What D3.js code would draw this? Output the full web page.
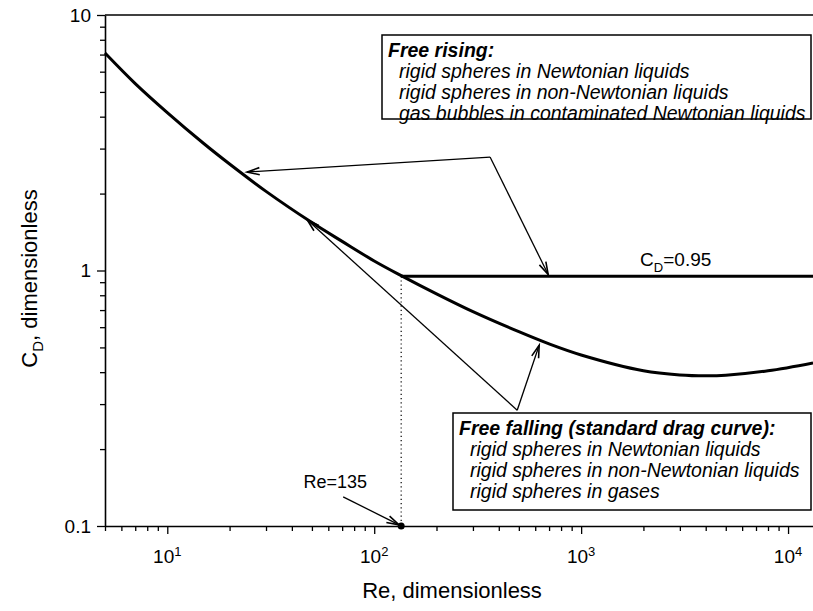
<!DOCTYPE html>
<html>
<head>
<meta charset="utf-8">
<script src="https://cdn.jsdelivr.net/npm/d3@7"></script>
<style>
  html, body { margin: 0; padding: 0; background: #fff; }
  svg { display: block; font-family: "Liberation Sans", Arial, Helvetica, sans-serif; }
</style>
</head>
<body>
<svg id="chart" width="813" height="611"></svg>
<script>
// standard drag curve
const reStd = [5, 7, 10, 15, 20, 30, 50, 70, 100, 135, 200, 300, 500, 700, 1000, 2000, 3000, 4000, 5000, 8000, 13200];
const cdStd = [7.1, 5.39, 4.15, 3.14, 2.61, 2.04, 1.54, 1.30, 1.09, 0.955, 0.81, 0.69, 0.576, 0.516, 0.467, 0.405, 0.39, 0.387, 0.389, 0.405, 0.435];

// free rising plateau
const reRise = [135, 13200];
const cdRise = [0.95, 0.95];

const reCrit = 135;

const xMajor = [10, 100, 1000, 10000];
const xMajorExp = ["1", "2", "3", "4"];
const yMajor = [0.1, 1, 10];
const yMajorLabels = ["0.1", "1", "10"];

const risingLines = ["rigid spheres in Newtonian liquids", "rigid spheres in non-Newtonian liquids", "gas bubbles in contaminated Newtonian liquids"];
const fallingLines = ["rigid spheres in Newtonian liquids", "rigid spheres in non-Newtonian liquids", "rigid spheres in gases"];

const W = 813, H = 611;
const mLeft = 105, mTop = 15, mBottom = 526;

const svg = d3.select("#chart");

const x = d3.scaleLog().domain([5, 13200]).range([mLeft, W]);
const y = d3.scaleLog().domain([0.1, 10]).range([mBottom, mTop]);

// minor ticks
const xMinor = [];
for (let p = 0; p <= 4; p++) for (let k = 2; k <= 9; k++) {
    const v = k * Math.pow(10, p);
    if (v >= 5 && v <= 13200) xMinor.push(v);
}
const yMinor = [];
for (let p = -1; p <= 0; p++) for (let k = 2; k <= 9; k++) yMinor.push(k * Math.pow(10, p));

// x axis
const gx = svg.append("g").attr("transform", `translate(0,${mBottom})`);
gx.call(d3.axisBottom(x).tickValues(xMinor).tickSize(5).tickFormat(""));
gx.select(".domain").remove();
const gx2 = svg.append("g").attr("transform", `translate(0,${mBottom})`)
    .call(d3.axisBottom(x).tickValues(xMajor).tickSize(8).tickSizeOuter(0).tickFormat(""));
gx2.select(".domain").attr("stroke", "#000").attr("stroke-width", 1.6);

// x tick labels with superscripts
xMajor.forEach((v, i) => {
    const t = svg.append("text")
        .attr("x", x(v)).attr("y", mBottom + 37)
        .attr("text-anchor", "middle")
        .style("font-size", "19px");
    t.append("tspan").text("10");
    t.append("tspan").attr("dy", -7).style("font-size", "13px").text(xMajorExp[i]);
});

// y axis
const gy = svg.append("g").attr("transform", `translate(${mLeft},0)`);
gy.call(d3.axisLeft(y).tickValues(yMinor).tickSize(5).tickFormat(""));
gy.select(".domain").remove();
const gy2 = svg.append("g").attr("transform", `translate(${mLeft},0)`)
    .call(d3.axisLeft(y).tickValues(yMajor).tickSize(8).tickSizeOuter(0).tickFormat((d, i) => yMajorLabels[i]));
gy2.selectAll("text").style("font-size", "19px").attr("x", -14).attr("fill", "#000")
    .style("font-family", "'Liberation Sans', Arial, sans-serif");
gy2.select(".domain").attr("stroke", "#000").attr("stroke-width", 1.6);
svg.selectAll(".tick line").attr("stroke", "#000").attr("stroke-width", 1.3);

// top frame line
svg.append("line")
    .attr("x1", x(5)).attr("x2", W)
    .attr("y1", y(10)).attr("y2", y(10))
    .attr("stroke", "#000").attr("stroke-width", 1.6);

// axis titles
svg.append("text")
    .attr("x", 452).attr("y", 598)
    .attr("text-anchor", "middle")
    .style("font-size", "22px")
    .text("Re, dimensionless");

const yt = svg.append("text")
    .attr("transform", `translate(37,${(mTop + mBottom) / 2 + 8}) rotate(-90)`)
    .attr("text-anchor", "middle")
    .style("font-size", "22px");
yt.append("tspan").text("C");
yt.append("tspan").attr("dy", 6).style("font-size", "15px").text("D");
yt.append("tspan").attr("dy", -6).text(", dimensionless");

// dotted line at Re=135
svg.append("line")
    .attr("x1", x(reCrit)).attr("x2", x(reCrit))
    .attr("y1", y(cdRise[0])).attr("y2", y(0.1))
    .attr("stroke", "#000").attr("stroke-width", 1.2)
    .attr("stroke-dasharray", "1.2,3");

// curves
const line = d3.line().x(d => x(d[0])).y(d => y(d[1])).curve(d3.curveCatmullRom.alpha(0.5));
svg.append("path")
    .datum(reStd.map((r, i) => [r, cdStd[i]]))
    .attr("d", line)
    .attr("fill", "none").attr("stroke", "#000").attr("stroke-width", 3);
svg.append("path")
    .datum(reRise.map((r, i) => [r, cdRise[i]]))
    .attr("d", line)
    .attr("fill", "none").attr("stroke", "#000").attr("stroke-width", 3);

svg.append("circle")
    .attr("cx", x(reCrit)).attr("cy", y(0.1)).attr("r", 3.5)
    .attr("fill", "#000");

// arrows: [fromRe, fromCd, toRe, toCd]
const arrows = [
    [363, 2.78, 24.3, 2.43],
    [363, 2.78, 693, 0.965],
    [491, 0.284, 47.4, 1.58],
    [491, 0.284, 627, 0.51],
    [70.8, 0.13, 132, 0.101]
];
arrows.forEach(a => {
    const x1 = x(a[0]), y1 = y(a[1]), x2 = x(a[2]), y2 = y(a[3]);
    svg.append("line")
        .attr("x1", x1).attr("y1", y1).attr("x2", x2).attr("y2", y2)
        .attr("stroke", "#000").attr("stroke-width", 1.3);
    const ang = Math.atan2(y1 - y2, x1 - x2);
    const len = 13, spread = 0.28;
    const pts = [
        [x2 + len * Math.cos(ang + spread), y2 + len * Math.sin(ang + spread)],
        [x2, y2],
        [x2 + len * Math.cos(ang - spread), y2 + len * Math.sin(ang - spread)]
    ];
    svg.append("path")
        .attr("d", d3.line()(pts))
        .attr("fill", "none").attr("stroke", "#000").attr("stroke-width", 1.6);
});

// labels
svg.append("text")
    .attr("x", x(70.8) - 8).attr("y", y(0.13) - 9)
    .attr("text-anchor", "middle")
    .style("font-size", "18px")
    .text("Re=135");

const cdl = svg.append("text")
    .attr("x", x(1928)).attr("y", y(0.95) - 10)
    .style("font-size", "19px");
cdl.append("tspan").text("C");
cdl.append("tspan").attr("dy", 6).style("font-size", "13px").text("D");
cdl.append("tspan").attr("dy", -6).text("=0.95");

// annotation boxes
function box(x0, y0, x1, y1, title, lines) {
    svg.append("rect")
        .attr("x", x0).attr("y", y0)
        .attr("width", x1 - x0).attr("height", y1 - y0)
        .attr("fill", "#fff").attr("stroke", "#000").attr("stroke-width", 1.5);
    svg.append("text")
        .attr("x", x0 + 6).attr("y", y0 + 22)
        .style("font-size", "19.5px").style("font-style", "italic").style("font-weight", "bold")
        .text(title);
    lines.forEach((s, i) => {
        svg.append("text")
            .attr("x", x0 + 17).attr("y", y0 + 43 + i * 21)
            .style("font-size", "19.5px").style("font-style", "italic")
            .text(s);
    });
}
box(382, 35, 811, 119, "Free rising:", risingLines);
box(453, 413, 811, 510, "Free falling (standard drag curve):", fallingLines);
</script>
</body>
</html>
